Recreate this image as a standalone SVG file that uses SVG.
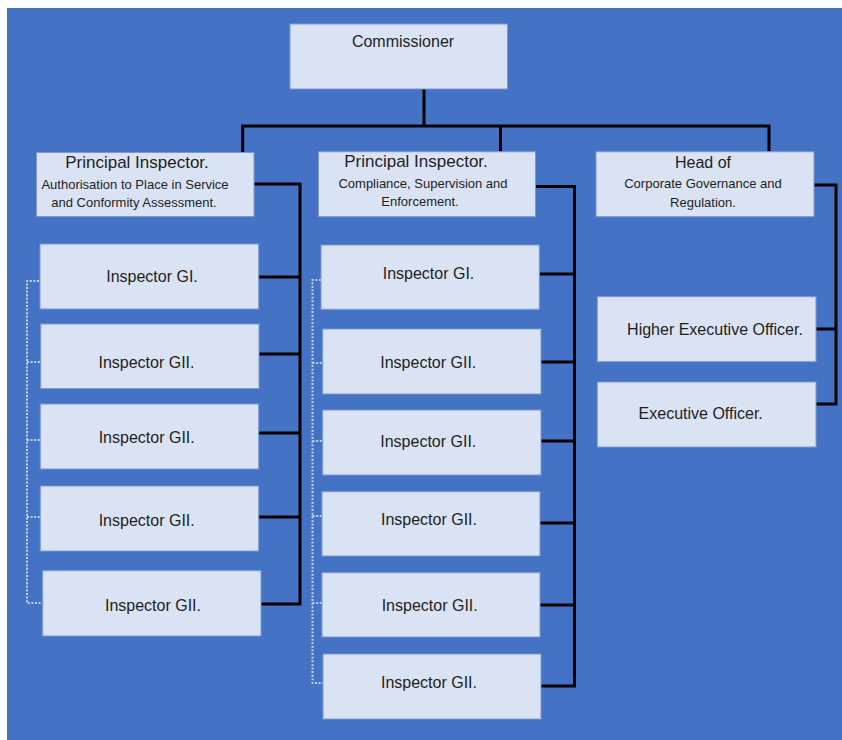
<svg xmlns="http://www.w3.org/2000/svg" width="842" height="740" viewBox="0 0 842 740">
<style>
.bg{fill:#4472C4}
.box{fill:#DAE3F3;stroke:#7E98CC;stroke-width:1}
.t{font-family:"Liberation Sans",Arial,sans-serif;font-size:16px;fill:#1e1e1e;text-anchor:middle}
.s{font-size:13px}
.pi{font-size:17px}
.ln{fill:none;stroke:#000;stroke-width:3;stroke-linejoin:miter;stroke-linecap:butt}
.dot{fill:none;stroke:#C9D2E3;stroke-width:2;stroke-dasharray:2 1.6}
</style>
<rect class="bg" x="7" y="8" width="835" height="732"/>
<g id="connectors">
<path class="ln" d="M424,89 V126 M242.7,153 V126 H769 V152 M500.5,126 V152"/>
<path class="ln" d="M254,184 H300 V605.5 M258.7,277 H300 M259,354 H300 M258.7,433 H300 M258.7,517 H300 M261,604 H300"/>
<path class="ln" d="M535.5,186.5 H574.5 V687.5 M539.3,274 H574.5 M541,362 H574.5 M541,441 H574.5 M540,523 H574.5 M540,605 H574.5 M541,686 H574.5"/>
<path class="ln" d="M814,185 H836 V405.5 M816,329 H836 M816,404 H836"/>
<path class="dot" d="M39,281 H27 V603 H42 M27,362 H40 M27,440 H40 M27,517 H40"/>
<path class="dot" d="M321,280 H312.5 V683 H323 M312.5,363 H322 M312.5,441 H322 M312.5,516 H322 M312.5,603 H322"/>
</g>
<g id="commissioner"><rect class="box" x="290" y="24" width="217.5" height="65"/><text class="t" x="403" y="47">Commissioner</text></g>
<g id="pi-authorisation"><rect class="box" x="36.5" y="152.5" width="217.5" height="64"/><text class="t pi" x="137" y="168">Principal Inspector.</text><text class="t s" x="135" y="189.3">Authorisation to Place in Service</text><text class="t s" x="134" y="206.7">and Conformity Assessment.</text></g>
<g id="pi-compliance"><rect class="box" x="318.5" y="151.7" width="217" height="65"/><text class="t pi" x="416" y="167">Principal Inspector.</text><text class="t s" x="423" y="188">Compliance, Supervision and</text><text class="t s" x="420" y="206">Enforcement.</text></g>
<g id="head-cgr"><rect class="box" x="596" y="151.7" width="218" height="65"/><text class="t" x="703" y="168">Head of</text><text class="t s" x="703" y="188.3">Corporate Governance and</text><text class="t s" x="703" y="206.7">Regulation.</text></g>
<g id="l-gi"><rect class="box" x="40" y="244" width="218.7" height="65"/><text class="t" x="152" y="282">Inspector GI.</text></g>
<g id="l-gii-1"><rect class="box" x="40.7" y="324" width="218.3" height="64.5"/><text class="t" x="146.5" y="368">Inspector GII.</text></g>
<g id="l-gii-2"><rect class="box" x="40.3" y="404" width="218.4" height="65"/><text class="t" x="146.7" y="443">Inspector GII.</text></g>
<g id="l-gii-3"><rect class="box" x="40.3" y="486" width="218.4" height="65"/><text class="t" x="146.7" y="525.7">Inspector GII.</text></g>
<g id="l-gii-4"><rect class="box" x="42.7" y="570.7" width="218.3" height="65.3"/><text class="t" x="153" y="611">Inspector GII.</text></g>
<g id="m-gi"><rect class="box" x="321" y="245" width="218.3" height="64.3"/><text class="t" x="428.5" y="279.3">Inspector GI.</text></g>
<g id="m-gii-1"><rect class="box" x="322.7" y="329" width="218.3" height="65"/><text class="t" x="428.3" y="367.7">Inspector GII.</text></g>
<g id="m-gii-2"><rect class="box" x="322.7" y="410" width="218.3" height="65"/><text class="t" x="428.3" y="446.7">Inspector GII.</text></g>
<g id="m-gii-3"><rect class="box" x="322" y="491.7" width="218" height="64.3"/><text class="t" x="429" y="525">Inspector GII.</text></g>
<g id="m-gii-4"><rect class="box" x="322" y="572.7" width="218" height="64.3"/><text class="t" x="429.7" y="611">Inspector GII.</text></g>
<g id="m-gii-5"><rect class="box" x="323" y="654" width="218" height="65"/><text class="t" x="429" y="688">Inspector GII.</text></g>
<g id="higher-exec"><rect class="box" x="597.3" y="296.7" width="218.7" height="65"/><text class="t" x="715" y="335">Higher Executive Officer.</text></g>
<g id="exec"><rect class="box" x="597.3" y="382" width="218.7" height="65"/><text class="t" x="700.7" y="419.3">Executive Officer.</text></g>
</svg>
